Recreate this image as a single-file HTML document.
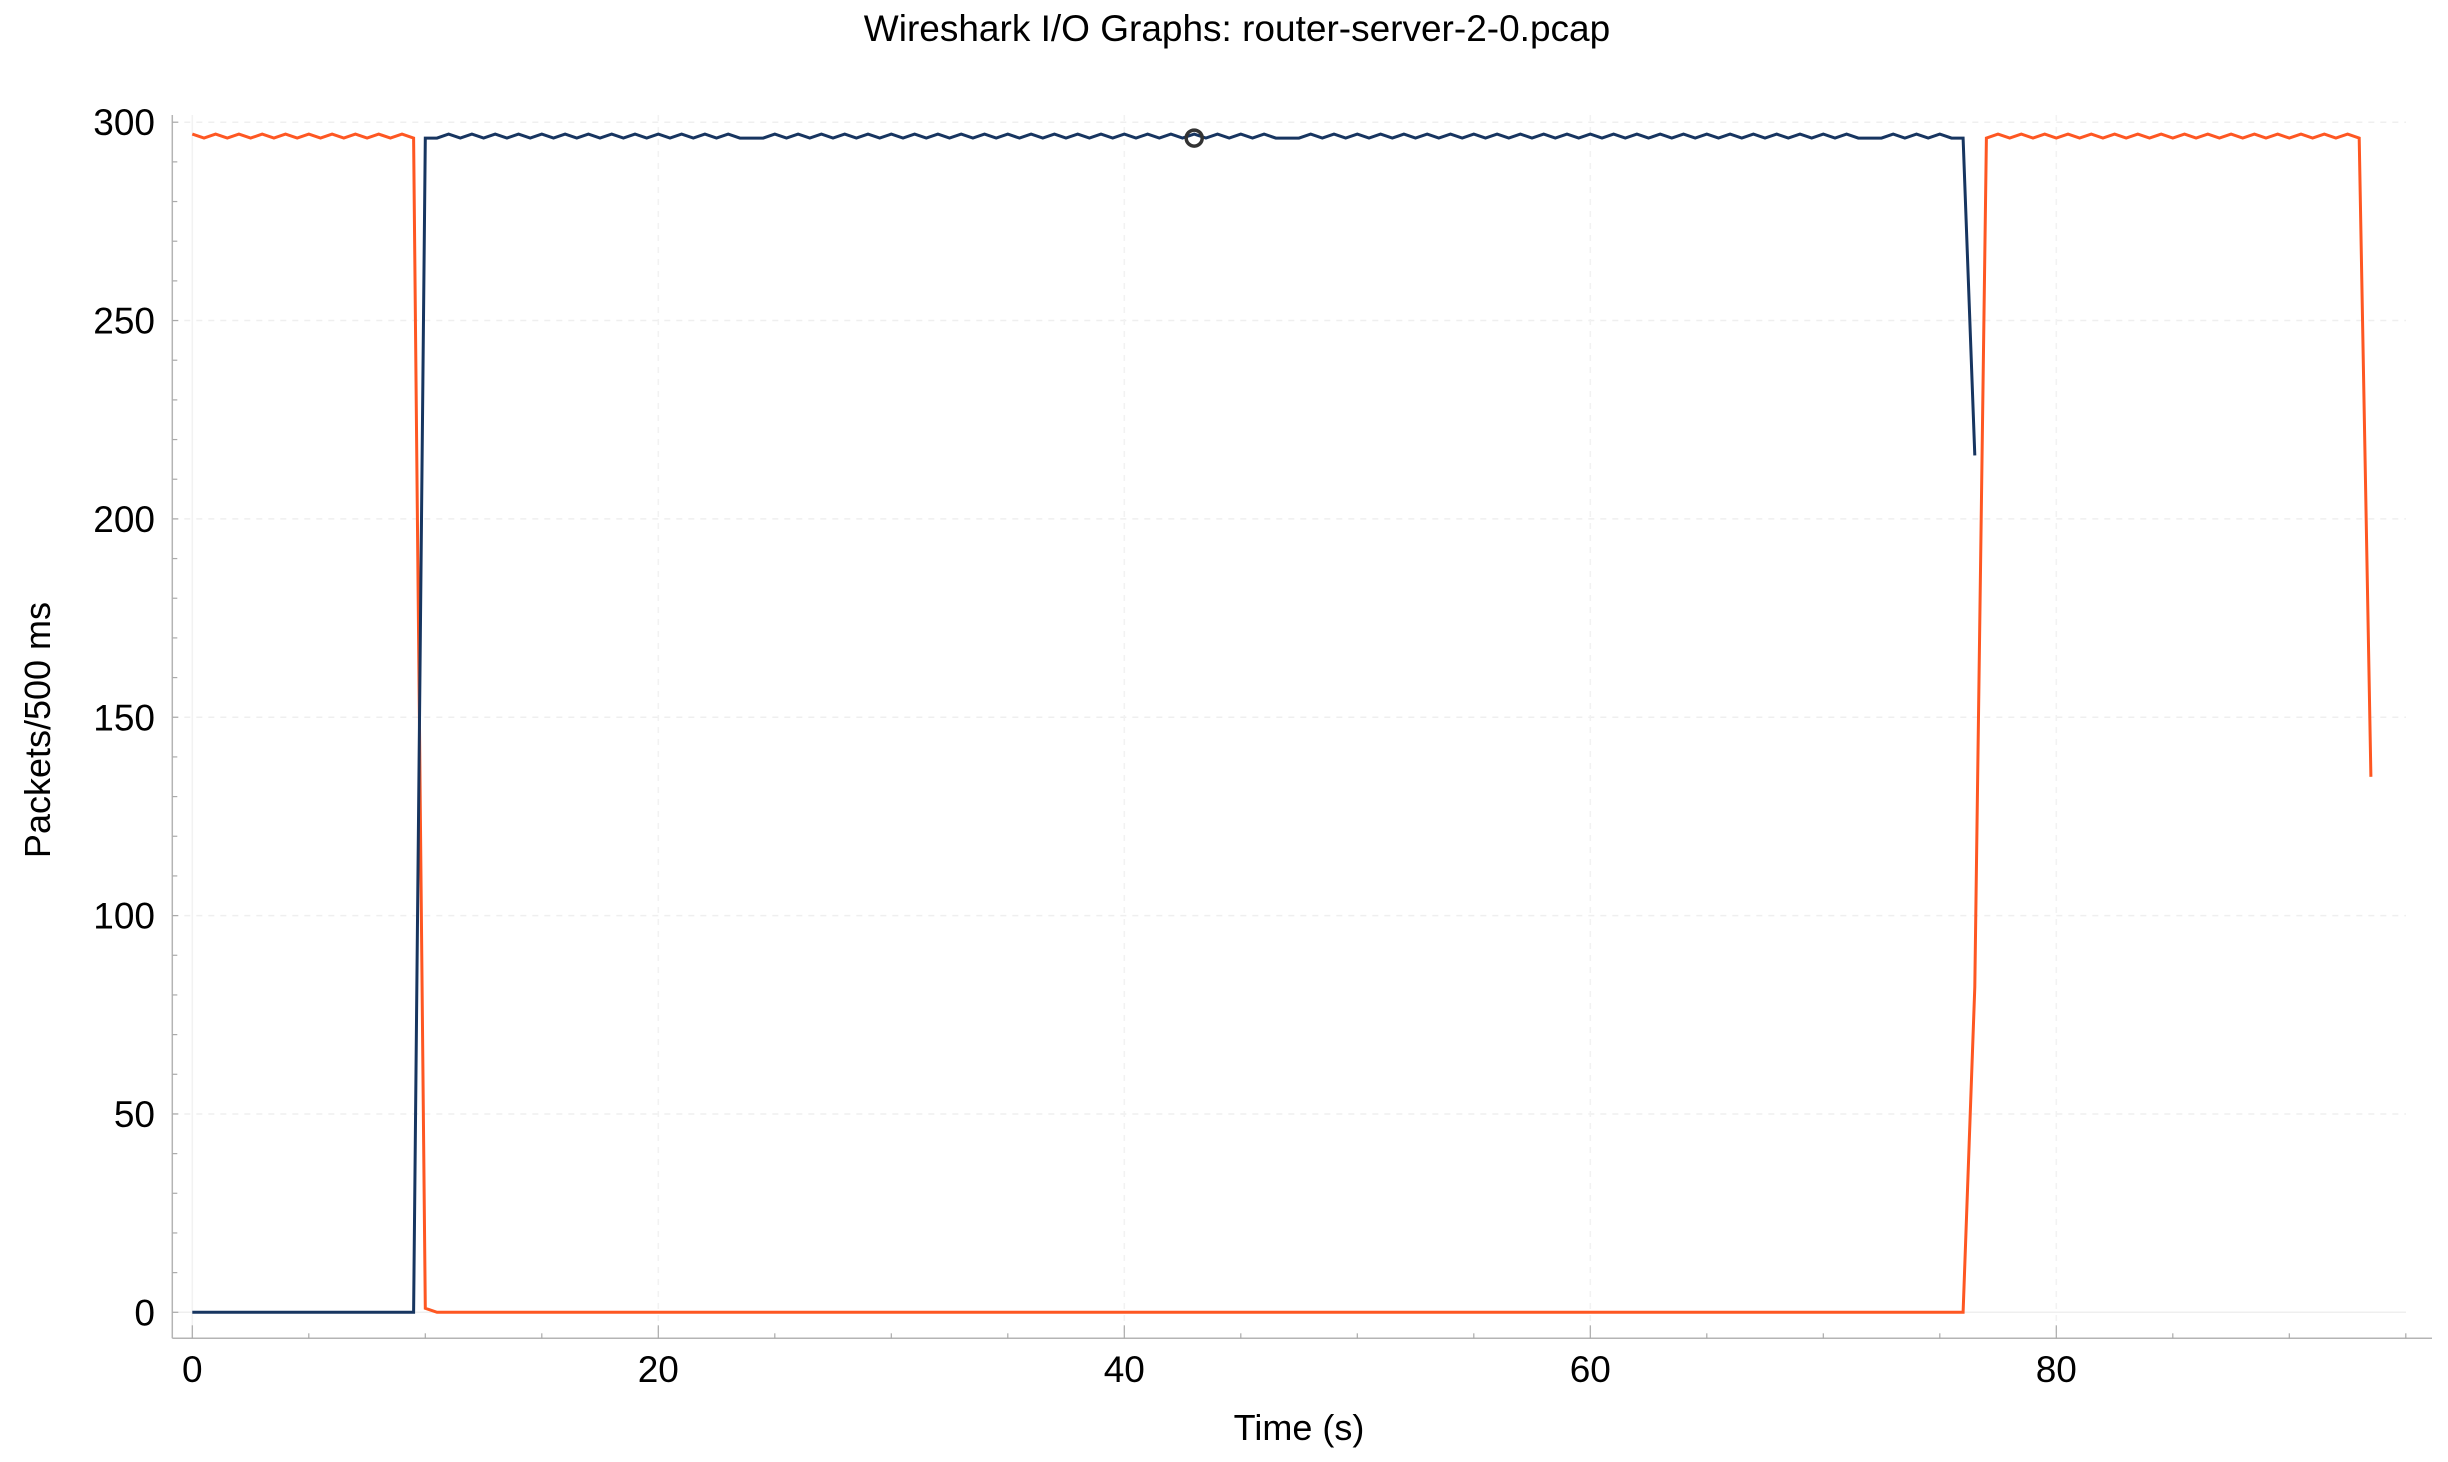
<!DOCTYPE html>
<html><head><meta charset="utf-8"><style>
html,body{margin:0;padding:0;background:#fff;}
svg{display:block;font-family:"Liberation Sans",sans-serif;}
</style></head><body>
<svg id="chart" width="2448" height="1462" viewBox="0 0 2448 1462" xmlns="http://www.w3.org/2000/svg">
<text x="1237" y="41" font-size="37" text-anchor="middle" fill="#000">Wireshark I/O Graphs: router-server-2-0.pcap</text>
<text x="1299" y="1440" font-size="36" text-anchor="middle" fill="#000">Time (s)</text>
<text transform="translate(50,730) rotate(-90)" font-size="36" text-anchor="middle" fill="#000">Packets/500 ms</text>
<g id="grid"></g>
<g id="axes"></g>
<g id="series"></g>
</svg>
<script>
const intervalSec = 0.5;
const xTicks = [0, 20, 40, 60, 80];
const yTicks = [0, 50, 100, 150, 200, 250, 300];
const orangeValues = [
297,296,297,296,297,296,297,296,297,296,297,296,297,296,297,296,297,296,297,296,
1,
0,0,0,0,0,0,0,0,0,0,
0,0,0,0,0,0,0,0,0,0,
0,0,0,0,0,0,0,0,0,0,
0,0,0,0,0,0,0,0,0,0,
0,0,0,0,0,0,0,0,0,0,
0,0,0,0,0,0,0,0,0,0,
0,0,0,0,0,0,0,0,0,0,
0,0,0,0,0,0,0,0,0,0,
0,0,0,0,0,0,0,0,0,0,
0,0,0,0,0,0,0,0,0,0,
0,0,0,0,0,0,0,0,0,0,
0,0,0,0,0,0,0,0,0,0,
0,0,0,0,0,0,0,0,0,0,
0,0,
82,
296,297,296,297,296,297,296,297,296,297,296,297,296,297,296,297,
296,297,296,297,296,297,296,297,296,297,296,297,296,297,296,297,296,
135
];
const blueValues = [
0,0,0,0,0,0,0,0,0,0,0,0,0,0,0,0,0,0,0,0,
296,296,
297,296,297,296,297,296,297,296,297,296,297,296,297,296,297,296,297,296,297,296,
297,296,297,296,297,296,296,296,297,296,297,296,297,296,297,296,297,296,297,296,
297,296,297,296,297,296,297,296,297,296,297,296,297,296,297,296,297,296,297,296,
297,296,297,296,297,296,297,296,297,296,297,296,296,296,297,296,297,296,297,296,
297,296,297,296,297,296,297,296,297,296,297,296,297,296,297,296,297,296,297,296,
297,296,297,296,297,296,297,296,297,296,297,296,297,296,297,296,297,296,297,296,
297,296,296,296,297,296,297,296,297,296,
296,216
];
const markerTime = 43;
const markerValue = 296;

const NS = "http://www.w3.org/2000/svg";
const X0 = 192.3, PXS = 23.3, Y0 = 1312.3, PXU = 3.967;
function xs(t){ return X0 + t*PXS; }
function ys(v){ return Y0 - v*PXU; }
function mk(tag, attrs, parent){
  const e = document.createElementNS(NS, tag);
  for (const k in attrs) e.setAttribute(k, attrs[k]);
  parent.appendChild(e);
  return e;
}
const grid = document.getElementById('grid');
const axes = document.getElementById('axes');
const series = document.getElementById('series');
const plotLeft = 172.3, plotRight = 2406, plotTop = 115, axisY = 1338.3, axisRight = 2432;

yTicks.forEach(v => {
  const l = mk('line', {x1: plotLeft, x2: plotRight, y1: ys(v), y2: ys(v), stroke: '#efefef', 'stroke-width': 1.5, 'stroke-dasharray': v === 0 ? 'none' : '6,6'}, grid);
  
  
});
xTicks.forEach(t => {
  const l = mk('line', {x1: xs(t), x2: xs(t), y1: plotTop, y2: axisY, stroke: '#f2f2f2', 'stroke-width': 1.5, 'stroke-dasharray': t === 0 ? 'none' : '6,6'}, grid);
  
  
});

const yAxis = mk('line', {x1: plotLeft, x2: plotLeft, y1: plotTop, y2: axisY, stroke: '#b4b4b4', 'stroke-width': 1.5}, axes);


const xAxis = mk('line', {x1: plotLeft, x2: axisRight, y1: axisY, y2: axisY, stroke: '#b4b4b4', 'stroke-width': 1.5}, axes);



for (let v = 0; v <= 300; v += 10) {
  const major = v % 50 === 0;
  const tk = mk('line', {x1: plotLeft, x2: plotLeft + (major ? 6 : 5), y1: ys(v), y2: ys(v), stroke: '#aaaaaa', 'stroke-width': 1.2}, axes);
  
  
}
for (let t = 0; t <= 95; t += 5) {
  const major = t % 20 === 0;
  const tk = mk('line', {x1: xs(t), x2: xs(t), y1: axisY, y2: axisY - (major ? 13 : 5), stroke: '#aaaaaa', 'stroke-width': 1.2}, axes);
  
  
}
yTicks.forEach(v => {
  const tx = mk('text', {x: 155, y: ys(v) + 13, 'font-size': 37, 'text-anchor': 'end', fill: '#000'}, axes);
  tx.textContent = String(v);
  
  
});
xTicks.forEach(t => {
  const tx = mk('text', {x: xs(t), y: 1382, 'font-size': 37, 'text-anchor': 'middle', fill: '#000'}, axes);
  tx.textContent = String(t);
  
  
});

function pts(vals){ return vals.map((v, i) => xs(i*intervalSec).toFixed(1) + ',' + ys(v).toFixed(1)).join(' '); }
const orange = mk('polyline', {points: pts(orangeValues), fill: 'none', stroke: '#fe5722', 'stroke-width': 3, 'stroke-linejoin': 'miter'}, series);


const blue = mk('polyline', {points: pts(blueValues), fill: 'none', stroke: '#173560', 'stroke-width': 3, 'stroke-linejoin': 'miter'}, series);


const marker = mk('circle', {cx: xs(markerTime), cy: ys(markerValue), r: 8, fill: 'none', stroke: '#333', 'stroke-width': 3.5}, series);


</script>
</body></html>
